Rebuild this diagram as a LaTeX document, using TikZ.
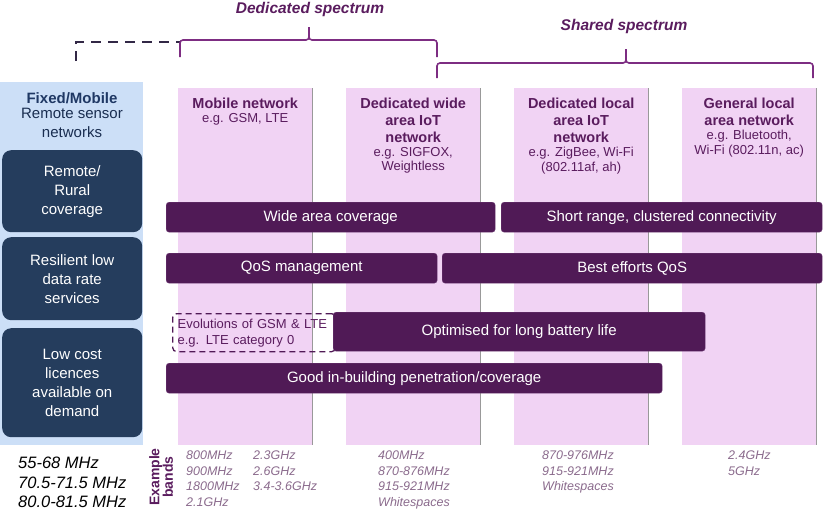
\documentclass[tikz,border=0pt]{standalone}
\usepackage{fontspec}
\setmainfont{Liberation Sans}
\usepackage{tikz}
\usetikzlibrary{positioning}
\definecolor{barpurple}{RGB}{80,26,86}
\definecolor{barline}{RGB}{112,62,118}
\definecolor{colpink}{RGB}{241,211,244}
\definecolor{sideblue}{RGB}{204,223,247}
\definecolor{navyfill}{RGB}{37,61,93}
\definecolor{navytext}{RGB}{31,56,100}
\definecolor{bracepurple}{RGB}{125,45,130}
\definecolor{headpurple}{RGB}{90,28,94}
\definecolor{bandgrey}{RGB}{138,106,140}
\definecolor{dashdark}{RGB}{50,40,70}
\tikzset{
        bandcol/.style={fill=colpink, anchor=north west, inner sep=0pt, minimum width=134pt, minimum height=357pt},
        colshade/.style={draw=black!40, line width=1pt},
        headline/.style={anchor=north, inner sep=0pt, align=center, text=headpurple, font=\fontsize{14.5}{16.8}\selectfont\bfseries},
        subline/.style={anchor=north, inner sep=0pt, align=center, text=headpurple, font=\fontsize{13}{14.5}\selectfont},
        featbar/.style={fill=barpurple, draw=barline, rounded corners=3pt, anchor=north west, inner sep=0pt, minimum height=30pt, text=white, font=\fontsize{15}{17}\selectfont},
        sidebox/.style={fill=navyfill, rounded corners=9pt, anchor=north west, inner sep=0pt, minimum width=140pt, align=center, text=white, font=\fontsize{15}{19}\selectfont},
        bracket/.style={draw=bracepurple, line width=1.6pt, rounded corners=3pt},
        spectrum/.style={text=headpurple, font=\fontsize{15.5}{18}\selectfont\bfseries\itshape},
        bands/.style={anchor=north west, inner sep=0pt, align=left, text=bandgrey, font=\fontsize{12.5}{15.5}\selectfont\itshape}
}

\begin{document}
\begin{tikzpicture}[x=1pt,y=-1pt]
\useasboundingbox (0,0) rectangle (827,512);

% left side column
\draw (0,82) node(SIDE)[fill=sideblue, anchor=north west, inner sep=0pt, minimum width=143pt, minimum height=363pt]{};
\draw (72,92) node(FIXED)[anchor=north, inner sep=0pt, text=navytext, font=\fontsize{15}{18}\selectfont\bfseries]{Fixed/Mobile};
\node (SENSOR)[below=4pt of FIXED, inner sep=0pt, align=center, text=navytext!80!black, font=\fontsize{15}{19}\selectfont]{Remote sensor\\networks};

\draw (2,150) node(RURAL)[sidebox, minimum height=82pt]{Remote/\\Rural\\coverage};
\draw (2,237) node(RESIL)[sidebox, minimum height=83pt]{Resilient low\\data rate\\services};
\draw (2,328) node(LOWCOST)[sidebox, minimum height=109pt]{Low cost\\licences\\available on\\demand};

% technology columns
\draw (178,88) node(COLA)[bandcol]{};
\draw (346,88) node(COLB)[bandcol]{};
\draw (514,88) node(COLC)[bandcol]{};
\draw (682,88) node(COLD)[bandcol]{};
\draw[colshade] (COLA.north east) -- (COLA.south east);
\draw[colshade] (COLB.north east) -- (COLB.south east);
\draw[colshade] (COLC.north east) -- (COLC.south east);
\draw[colshade] (COLD.north east) -- (COLD.south east);

\node (HEADA)[headline, below=10pt of COLA.north]{Mobile network};
\node (SUBA)[subline, below=4.5pt of HEADA]{e.g. GSM, LTE};
\node (HEADB)[headline, below=10pt of COLB.north]{Dedicated wide\\area IoT\\network};
\node (SUBB)[subline, below=4.5pt of HEADB]{e.g. SIGFOX,\\Weightless};
\node (HEADC)[headline, below=10pt of COLC.north]{Dedicated local\\area IoT\\network};
\node (SUBC)[subline, below=4.5pt of HEADC]{e.g. ZigBee, Wi-Fi\\(802.11af, ah)};
\node (HEADD)[headline, below=10pt of COLD.north]{General local\\area network};
\node (SUBD)[subline, below=4.5pt of HEADD]{e.g. Bluetooth,\\Wi-Fi (802.11n, ac)};

% capability bars
\draw (166,202) node(WIDE)[featbar, minimum width=329pt]{Wide area coverage};
\draw (501,202) node(SHORT)[featbar, minimum width=321pt]{Short range, clustered connectivity};
\draw (166,253) node(QOS)[featbar, minimum width=271pt]{QoS management};
\draw (442,253) node(BEST)[featbar, minimum width=380pt]{Best efforts QoS};
\draw (172,313) node(EVOL)[anchor=north west, draw=barpurple, line width=1.3pt, dash pattern=on 6pt off 4pt, rounded corners=4pt, minimum width=163pt, minimum height=38pt, inner xsep=5pt, inner ysep=0pt, text width=153pt, align=left, text=headpurple, font=\fontsize{13}{16}\selectfont]{Evolutions of GSM \& LTE\\e.g. LTE category 0};
\draw (333,312) node(BATT)[featbar, minimum width=372pt, minimum height=39pt]{Optimised for long battery life};
\draw (166,363) node(GOOD)[featbar, minimum width=496pt]{Good in-building penetration/coverage};

% spectrum brackets
\draw[dashdark, line width=2.5pt, dash pattern=on 10pt off 7pt] (76,61) |- (180,42);
\draw[bracket] (180,57) |- (309,40) -- (309,27);
\draw[bracket] (437,57) |- (309,40) -- (309,27);
\draw (310,9) node(DEDSPEC)[spectrum]{Dedicated spectrum};
\draw[bracket] (437,78) |- (626,63) -- (626,49);
\draw[bracket] (813,78) |- (626,63) -- (626,49);
\draw (624,26) node(SHSPEC)[spectrum]{Shared spectrum};

% example bands
\draw (18,457) node(FIXBANDS)[anchor=north west, inner sep=0pt, align=left, font=\fontsize{16.5}{19.5}\selectfont\itshape]{55-68 MHz\\70.5-71.5 MHz\\80.0-81.5 MHz};
\draw (161,477) node(EXLABEL)[rotate=90, inner sep=0pt, align=center, text=headpurple, font=\fontsize{14}{13.5}\selectfont\bfseries]{Example\\bands};
\draw (186,451) node(BANDA)[bands]{800MHz\\900MHz\\1800MHz\\2.1GHz};
\draw (253,451) node(BANDAA)[bands]{2.3GHz\\2.6GHz\\3.4-3.6GHz};
\draw (378,451) node(BANDB)[bands]{400MHz\\870-876MHz\\915-921MHz\\Whitespaces};
\draw (542,451) node(BANDC)[bands]{870-976MHz\\915-921MHz\\Whitespaces};
\draw (728,451) node(BANDD)[bands]{2.4GHz\\5GHz};

\end{tikzpicture}
\end{document}
